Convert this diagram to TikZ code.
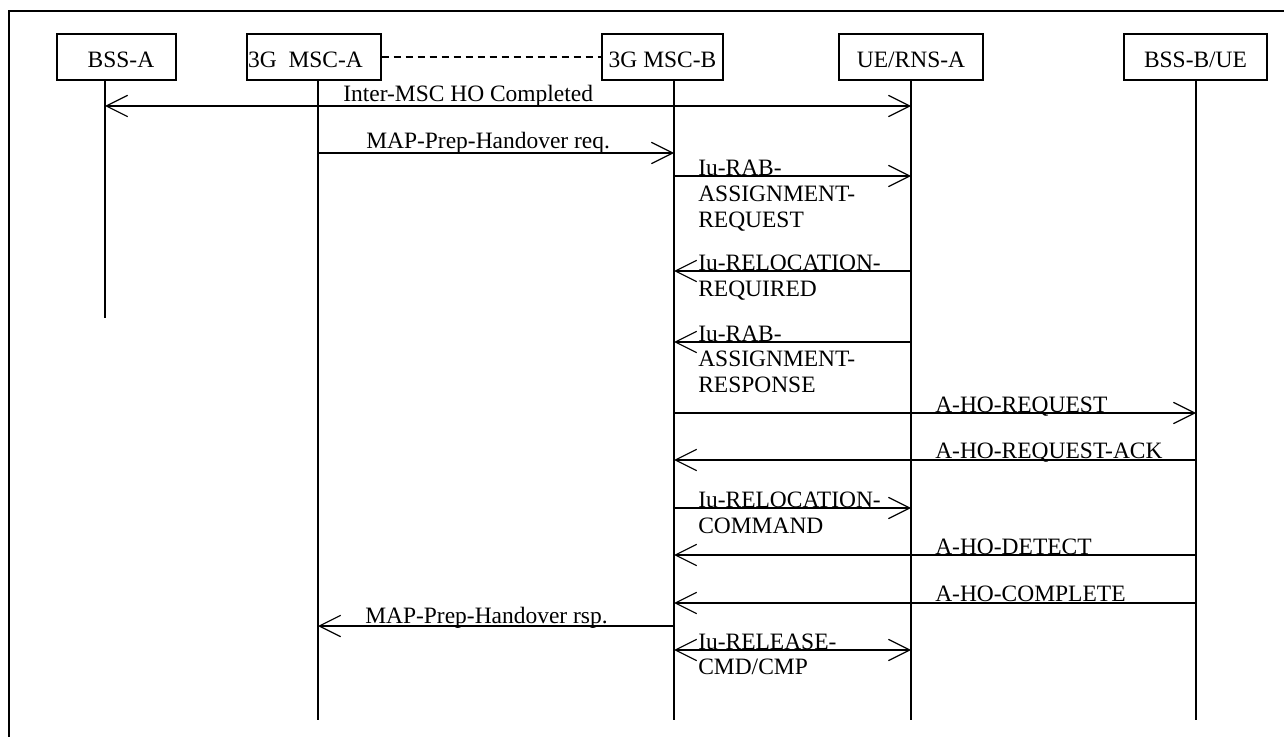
\documentclass[tikz,border=0pt]{standalone}
\usepackage{fontspec}
\setmainfont{Liberation Serif}
\usetikzlibrary{arrows.meta}
\newcommand\lblfont{\fontsize{17.6pt}{19.5pt}\selectfont}
\begin{document}
\begin{tikzpicture}[x=0.75pt,y=-0.75pt,font=\lblfont,
  box/.style={draw,line width=1.1pt,minimum height=34.5pt,inner sep=0pt,text height=16.5pt,text depth=0pt},
  life/.style={line width=2pt},
  tip/.style={Straight Barb[length=16pt,width=16pt]},
  msg/.style={line width=0.9pt,-{Straight Barb[length=16pt,width=16pt]}},
  dmsg/.style={line width=0.9pt,{Straight Barb[length=16pt,width=16pt]}-{Straight Barb[length=16pt,width=16pt]}},
  lbl/.style={anchor=base west,inner sep=0pt},
  dashlink/.style={line width=1.1pt,dash pattern=on 5.6pt off 3.4pt}]
\useasboundingbox (0,0) rectangle (1284,737);
% frame
\draw[line width=1.1pt] (9,737) -- (9,11) -- (1284,11);
% boxes
\node[box,minimum width=89.25pt] (BA) at (116.5,57) {\hspace*{6.75pt}BSS-A};
\node[box,minimum width=100.5pt] (MA) at (314,57) {3G\ \ MSC-A\hspace*{12.75pt}};
\node[box,minimum width=90.75pt] (MB) at (662.5,57) {3G MSC-B};
\node[box,minimum width=108pt] (UR) at (911,57) {UE/RNS-A};
\node[box,minimum width=107.25pt] (BB) at (1195.5,57) {BSS-B/UE};
\draw[dashlink] (MA.east) -- (MB.west);
% lifelines
\coordinate (LA) at (105,80);   \coordinate (LAe) at (105,318);
\coordinate (LMA) at (318,80);  \coordinate (LMAe) at (318,720);
\coordinate (LMB) at (674,80);  \coordinate (LMBe) at (674,720);
\coordinate (LU) at (911,80);   \coordinate (LUe) at (911,720);
\coordinate (LB) at (1196,80);  \coordinate (LBe) at (1196,720);
\draw[life] (LA) -- (LAe);
\draw[life] (LMA) -- (LMAe);
\draw[life] (LMB) -- (LMBe);
\draw[life] (LU) -- (LUe);
\draw[life] (LB) -- (LBe);
% message rows
\coordinate (r1) at (0,106);
\coordinate (r2) at (0,153);
\coordinate (r3) at (0,176);
\coordinate (r4) at (0,271);
\coordinate (r5) at (0,342);
\coordinate (r6) at (0,413);
\coordinate (r7) at (0,460);
\coordinate (r8) at (0,508);
\coordinate (r9) at (0,555);
\coordinate (r10) at (0,603);
\coordinate (r11) at (0,626);
\coordinate (r12) at (0,650);
\draw[dmsg] (LA |- r1) -- (LU |- r1);
\draw[msg] (LMA |- r2) -- (LMB |- r2);
\draw[msg] (LMB |- r3) -- (LU |- r3);
\draw[msg] (LU |- r4) -- (LMB |- r4);
\draw[msg] (LU |- r5) -- (LMB |- r5);
\draw[msg] (LMB |- r6) -- (LB |- r6);
\draw[msg] (LB |- r7) -- (LMB |- r7);
\draw[msg] (LMB |- r8) -- (LU |- r8);
\draw[msg] (LB |- r9) -- (LMB |- r9);
\draw[msg] (LB |- r10) -- (LMB |- r10);
\draw[msg] (LMB |- r11) -- (LMA |- r11);
\draw[dmsg] (LMB |- r12) -- (LU |- r12);
% labels
\node[lbl] (t1) at (343,102) {Inter-MSC HO Completed};
\node[lbl] (t2) at (366,148.5) {MAP-Prep-Handover req.};
\node[lbl] (t3a) at (698,176) {Iu-RAB-};
\node[lbl] (t3b) at (698,202) {ASSIGNMENT-};
\node[lbl] (t3c) at (698,228) {REQUEST};
\node[lbl] (t4a) at (698,271) {Iu-RELOCATION-};
\node[lbl] (t4b) at (698,297) {REQUIRED};
\node[lbl] (t5a) at (698,342) {Iu-RAB-};
\node[lbl] (t5b) at (698,367) {ASSIGNMENT-};
\node[lbl] (t5c) at (698,393) {RESPONSE};
\node[lbl] (t6) at (935,412) {A-HO-REQUEST};
\node[lbl] (t7) at (935,458) {A-HO-REQUEST-ACK};
\node[lbl] (t8a) at (698,507) {Iu-RELOCATION-};
\node[lbl] (t8b) at (698,533) {COMMAND};
\node[lbl] (t9) at (935,554) {A-HO-DETECT};
\node[lbl] (t10) at (935,601) {A-HO-COMPLETE};
\node[lbl] (t11) at (365,623) {MAP-Prep-Handover rsp.};
\node[lbl] (t12a) at (698,649) {Iu-RELEASE-};
\node[lbl] (t12b) at (698,674) {CMD/CMP};
\end{tikzpicture}
\end{document}
